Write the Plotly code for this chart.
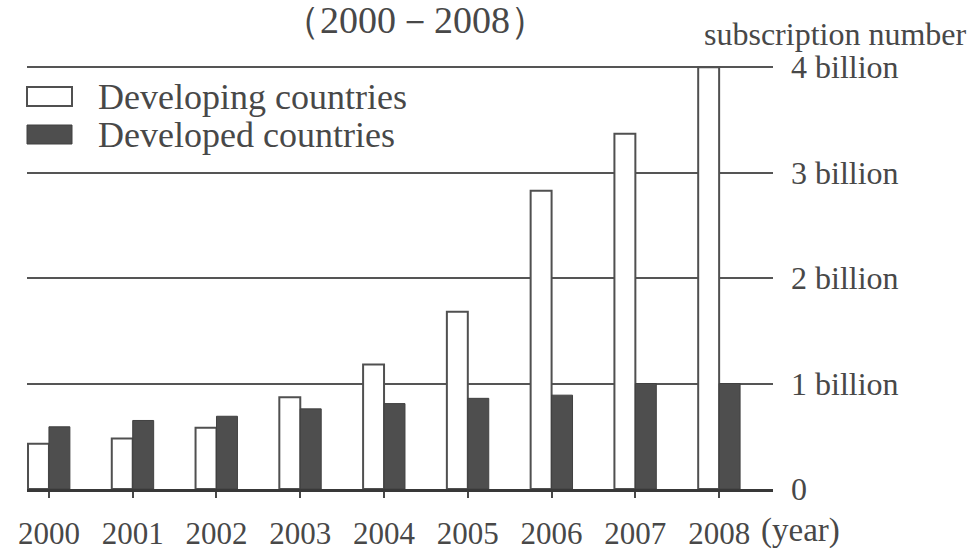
import plotly.graph_objects as go

years = ["2000", "2001", "2002", "2003", "2004", "2005", "2006", "2007", "2008"]
developing = [0.43, 0.48, 0.58, 0.87, 1.18, 1.68, 2.83, 3.37, 4.0]
developed = [0.59, 0.65, 0.69, 0.76, 0.81, 0.86, 0.89, 1.0, 1.0]
y_tickvals = [0, 1, 2, 3, 4]
y_ticktext = ["0", "1 billion", "2 billion", "3 billion", "4 billion"]
series_names = ["Developing countries", "Developed countries"]

FONT = "Liberation Serif"
TXT = "#484848"

fig = go.Figure()
fig.add_trace(go.Bar(x=years, y=developing, name=series_names[0],
                     marker=dict(color="white", line=dict(color="#505050", width=2))))
fig.add_trace(go.Bar(x=years, y=developed, name=series_names[1],
                     marker=dict(color="#4e4e4e", line=dict(color="#404040", width=1))))

W, H = 974, 551
L, R = 27, 773
T, B = 62, 489
pw, ph = R - L, B - T

def px(xp):
    return (xp - L) / pw

def py(yp):
    return (B - yp) / ph

shapes = [
    dict(type="rect", xref="paper", yref="paper", x0=px(27), x1=px(72), y0=py(106), y1=py(87),
         fillcolor="white", line=dict(color="#505050", width=2)),
    dict(type="rect", xref="paper", yref="paper", x0=px(27), x1=px(72), y0=py(144), y1=py(125),
         fillcolor="#4e4e4e", line=dict(color="#404040", width=1)),
]

annotations = [
    dict(text=series_names[0], x=px(96), y=py(97), xref="paper", yref="paper", xanchor="left",
         yanchor="middle", showarrow=False, font=dict(family=FONT, size=36, color=TXT)),
    dict(text=series_names[1], x=px(96), y=py(135), xref="paper", yref="paper", xanchor="left",
         yanchor="middle", showarrow=False, font=dict(family=FONT, size=36, color=TXT)),
    dict(text="（2000－2008）", x=px(415), y=py(20), xref="paper", yref="paper", xanchor="center",
         yanchor="middle", showarrow=False, font=dict(family=FONT, size=38, color=TXT)),
    dict(text="subscription number", x=px(835), y=py(34), xref="paper", yref="paper", xanchor="center",
         yanchor="middle", showarrow=False, font=dict(family=FONT, size=32, color=TXT)),
    dict(text="(year)", x=px(759), y=py(530), xref="paper", yref="paper", xanchor="left",
         yanchor="middle", showarrow=False, font=dict(family=FONT, size=33, color=TXT)),
]

fig.update_layout(
    width=W, height=H,
    margin=dict(l=L, r=W - R, t=T, b=H - B, pad=0, autoexpand=False),
    paper_bgcolor="white", plot_bgcolor="white",
    barmode="group", bargap=0.5, bargroupgap=0,
    showlegend=False,
    shapes=shapes, annotations=annotations,
    font=dict(family=FONT, color=TXT),
    xaxis=dict(type="category", range=[-0.262, 8.643], showgrid=False, automargin=False,
               showline=True, linecolor="#383838", linewidth=3,
               ticks="outside", ticklen=6, tickwidth=2, tickcolor="#484848",
               tickfont=dict(family=FONT, size=31, color=TXT), ticklabelstandoff=9),
    yaxis=dict(side="right", range=[0, 4.05], tickvals=y_tickvals, ticktext=y_ticktext,
               automargin=False,
               showgrid=True, gridcolor="#555555", gridwidth=2, zeroline=False, showline=False,
               tickfont=dict(family=FONT, size=32, color=TXT), ticklabelstandoff=17),
)

fig.write_html("out.html", config={"displayModeBar": False},
               post_script="document.body.style.margin='0';")
